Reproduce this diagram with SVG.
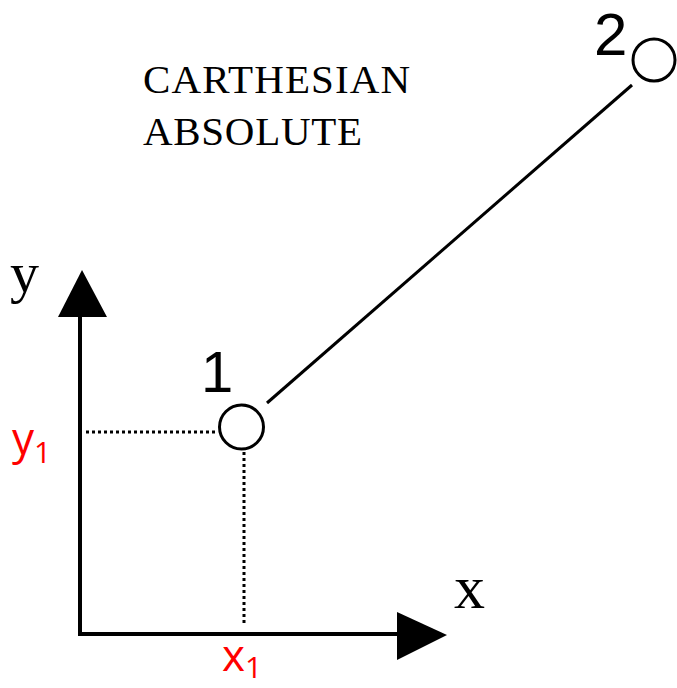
<svg xmlns="http://www.w3.org/2000/svg" width="677" height="688" viewBox="0 0 677 688">
<style>
.ax{stroke:#000;stroke-width:4;fill:none}
.dot{stroke:#000;stroke-width:3;stroke-dasharray:3 3;fill:none}
.node{fill:#fff;stroke:#000;stroke-width:3}
.serif{font-family:"Liberation Serif",serif;fill:#000}
.sans{font-family:"Liberation Sans",sans-serif;fill:#000}
.red{font-family:"Open Sans","Liberation Sans",sans-serif;fill:#ff0000}
</style>
<rect width="677" height="688" fill="#fff"/>
<g id="connectors">
<line class="ax" x1="80" y1="634" x2="80" y2="315"/>
<polygon points="82,270 58,317 107,317" fill="#000"/>
<line class="ax" x1="78" y1="634" x2="400" y2="634"/>
<polygon points="447,635 397,612 397,660" fill="#000"/>
<line class="dot" x1="86" y1="432" x2="218" y2="432"/>
<line class="dot" x1="244" y1="452" x2="244" y2="625"/>
<line x1="267" y1="403" x2="632" y2="85" stroke="#000" stroke-width="3"/>
</g>
<g id="node1"><circle class="node" cx="241.5" cy="427" r="22"/><text class="sans" x="201" y="392" font-size="58">1</text></g>
<g id="node2"><circle class="node" cx="654" cy="60" r="21"/><text class="sans" x="594" y="55" font-size="60">2</text></g>
<g id="labels">
<text class="serif" x="143" y="93" font-size="41" textLength="267">CARTHESIAN</text>
<text class="serif" x="143" y="145" font-size="41" textLength="219">ABSOLUTE</text>
<text class="serif" x="10" y="292" font-size="58">y</text>
<text class="serif" x="454" y="608" font-size="62">x</text>
<text class="red" x="12" y="454" font-size="44">y<tspan font-size="30" dy="9">1</tspan></text>
<text class="red" x="222" y="671" font-size="44">x<tspan font-size="30" dy="7">1</tspan></text>
</g>
</svg>
